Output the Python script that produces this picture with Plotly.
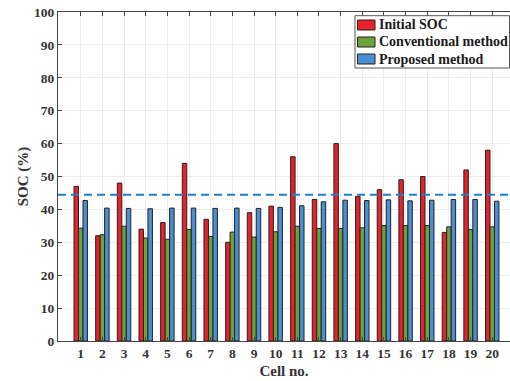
import plotly.graph_objects as go

cells = [str(i) for i in range(1, 21)]
initial_soc = [47.0, 32.0, 48.0, 34.0, 36.0, 54.0, 37.0, 30.0, 39.0, 41.0,
               56.0, 43.0, 60.0, 44.0, 46.0, 49.0, 50.0, 33.0, 52.0, 58.0]
conventional = [34.3, 32.3, 34.9, 31.3, 30.9, 33.9, 31.8, 33.1, 31.6, 33.2,
                34.9, 34.2, 34.2, 34.4, 35.1, 35.1, 35.1, 34.7, 33.9, 34.7]
proposed = [42.7, 40.4, 40.3, 40.2, 40.4, 40.4, 40.3, 40.4, 40.3, 40.6,
            41.1, 42.3, 42.8, 42.7, 42.9, 42.6, 42.8, 43.0, 43.0, 42.5]
mean_level = 44.45
y_ticks = list(range(0, 101, 10))
series_names = ["Initial SOC", "Conventional method", "Proposed method"]
series_colors = ["#E8212A", "#6FA23A", "#4A8FD2"]

font_fam = "Liberation Serif"
txt_col = "#333333"

W, H = 510, 381
ML, MR, MT, MB = 58, 0, 12, 40
PW, PH = W - ML - MR, H - MT - MB


def px_x(px):
    return (px - ML) / PW


def px_y(py):
    return (H - MB - py) / PH


fig = go.Figure()
xs = list(range(1, 21))
for name, vals, col in zip(series_names, [initial_soc, conventional, proposed], series_colors):
    fig.add_trace(go.Bar(x=xs, y=vals, name=name, showlegend=False,
                         marker=dict(color=col, line=dict(color="#222222", width=1))))

fig.add_shape(type="line", xref="paper", x0=0, x1=1, yref="y", y0=mean_level, y1=mean_level,
              line=dict(color="#1F7FC8", width=2, dash="8px,5px"), layer="above")

# legend box (drawn manually to match the MATLAB-style legend)
fig.add_shape(type="rect", xref="paper", yref="paper",
              x0=px_x(355), x1=px_x(509.5), y0=px_y(68), y1=px_y(15.7),
              line=dict(color="#555555", width=1), fillcolor="white", layer="above")
for i, (name, col) in enumerate(zip(series_names, series_colors)):
    cy = 25 + 17 * i
    fig.add_shape(type="rect", xref="paper", yref="paper",
                  x0=px_x(357.5), x1=px_x(375), y0=px_y(cy + 5), y1=px_y(cy - 5),
                  line=dict(color="#222222", width=1), fillcolor=col, layer="above")
    fig.add_annotation(xref="paper", yref="paper", x=px_x(377), y=px_y(cy),
                       xanchor="left", yanchor="middle", showarrow=False, text=name,
                       font=dict(family=font_fam, size=14, color="#1a1a1a", weight="bold"))

fig.update_layout(
    width=W, height=H,
    margin=dict(l=ML, r=MR, t=MT, b=MB),
    paper_bgcolor="white", plot_bgcolor="white",
    barmode="group", bargap=0.38, bargroupgap=0,
    font=dict(family=font_fam, size=13, color=txt_col),
    showlegend=False,
    xaxis=dict(range=[-0.05, 20.82], tickmode="array", tickvals=xs, ticktext=cells,
               ticks="inside", ticklen=4, tickcolor="#444444",
               showline=True, linecolor="#444444", linewidth=1, mirror="ticks",
               showgrid=True, gridcolor="#ececec", gridwidth=1, zeroline=False,
               tickfont=dict(family=font_fam, size=13.5, color=txt_col, weight="bold"),
               title=dict(text="Cell no.", standoff=5,
                          font=dict(family=font_fam, size=15, color=txt_col, weight="bold"))),
    yaxis=dict(range=[0, 100], tickvals=y_ticks,
               ticks="inside", ticklen=4, tickcolor="#444444",
               showline=True, linecolor="#444444", linewidth=1, mirror=False,
               showgrid=True, gridcolor="#ececec", gridwidth=1, zeroline=False,
               tickfont=dict(family=font_fam, size=13.5, color=txt_col, weight="bold"),
               title=dict(text="SOC (%)", standoff=1,
                          font=dict(family=font_fam, size=15, color=txt_col, weight="bold"))),
)

fig.write_html("out.html", config={"displayModeBar": False},
               post_script="document.body.style.margin='0';document.body.style.overflow='hidden';")
